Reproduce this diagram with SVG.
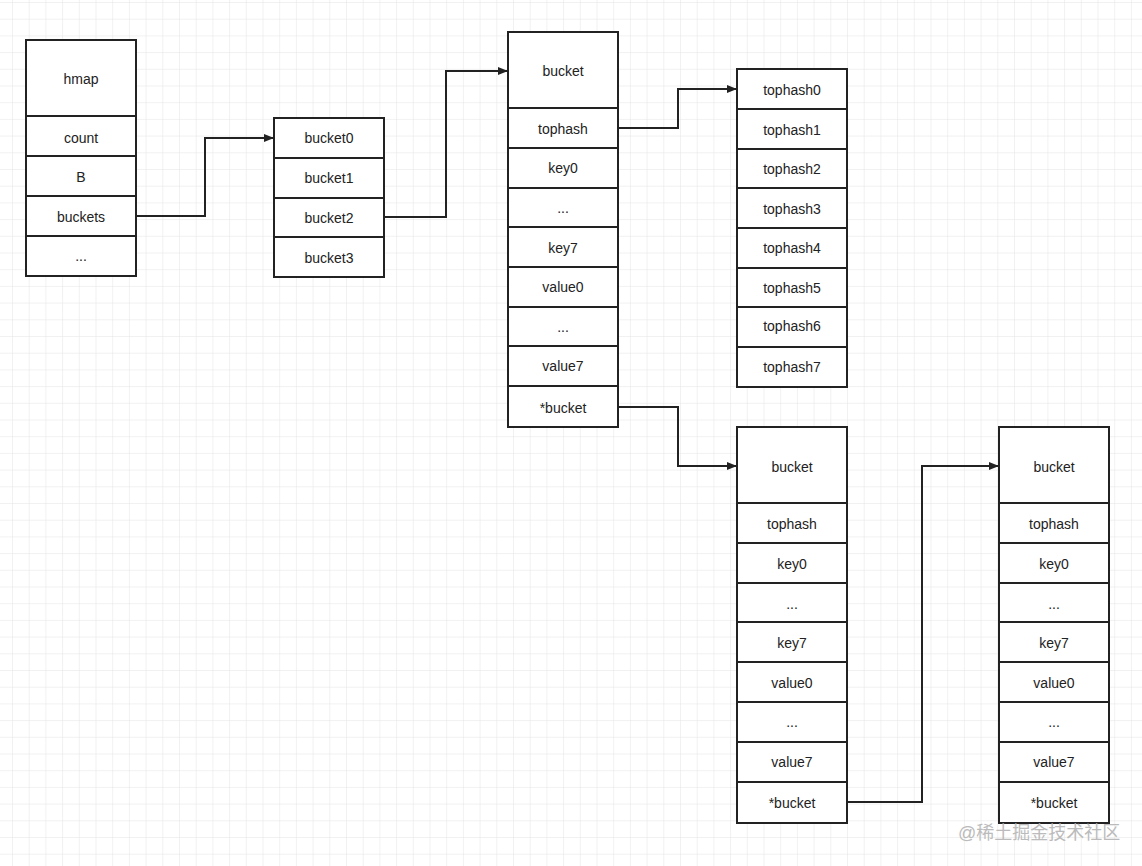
<svg xmlns="http://www.w3.org/2000/svg" width="1142" height="866" viewBox="0 0 1142 866">
<style>
.c{fill:#fff;stroke:#222;stroke-width:2}
text{font-family:"Liberation Sans",Arial,sans-serif;font-size:14px;fill:#222;text-anchor:middle;dominant-baseline:central}
.w{font-family:"Liberation Sans","Noto Sans CJK SC",sans-serif;font-size:18px;fill:#bbb;text-anchor:start}
#conn path{fill:none;stroke:#222;stroke-width:2}
</style>
<defs>
<pattern id="g" width="16.7" height="16.7" patternUnits="userSpaceOnUse" x="12" y="2"><path d="M0 0H16.7M0 0V16.7" stroke="#e4e4e4" stroke-width="1" fill="none"/></pattern>
<marker id="a" markerWidth="10" markerHeight="8" refX="9" refY="4" orient="auto" markerUnits="userSpaceOnUse"><path d="M0 0L10 4L0 8z" fill="#222"/></marker>
</defs>
<rect width="1142" height="866" fill="#fff"/>
<rect width="1142" height="866" fill="url(#g)"/>
<g id="hmap">
<rect class="c" x="26" y="40" width="110" height="76"/><text x="81" y="79">hmap</text>
<rect class="c" x="26" y="116" width="110" height="40"/><text x="81" y="138">count</text>
<rect class="c" x="26" y="156" width="110" height="40"/><text x="81" y="177">B</text>
<rect class="c" x="26" y="196" width="110" height="40"/><text x="81" y="217">buckets</text>
<rect class="c" x="26" y="236" width="110" height="40"/><text x="81" y="256">...</text>
</g>
<g id="buckets">
<rect class="c" x="274" y="118" width="110" height="40"/><text x="329" y="138">bucket0</text>
<rect class="c" x="274" y="158" width="110" height="40"/><text x="329" y="178">bucket1</text>
<rect class="c" x="274" y="198" width="110" height="39"/><text x="329" y="218">bucket2</text>
<rect class="c" x="274" y="237" width="110" height="40"/><text x="329" y="258">bucket3</text>
</g>
<g id="bucketA">
<rect class="c" x="508" y="32" width="110" height="76"/><text x="563" y="71">bucket</text>
<rect class="c" x="508" y="108" width="110" height="40"/><text x="563" y="129">tophash</text>
<rect class="c" x="508" y="148" width="110" height="40"/><text x="563" y="168">key0</text>
<rect class="c" x="508" y="188" width="110" height="39"/><text x="563" y="208">...</text>
<rect class="c" x="508" y="227" width="110" height="40"/><text x="563" y="248">key7</text>
<rect class="c" x="508" y="267" width="110" height="40"/><text x="563" y="287">value0</text>
<rect class="c" x="508" y="307" width="110" height="39"/><text x="563" y="327">...</text>
<rect class="c" x="508" y="346" width="110" height="40"/><text x="563" y="366">value7</text>
<rect class="c" x="508" y="386" width="110" height="41"/><text x="563" y="408">*bucket</text>
</g>
<g id="tophash">
<rect class="c" x="737" y="69" width="110" height="40"/><text x="792" y="90">tophash0</text>
<rect class="c" x="737" y="109" width="110" height="40"/><text x="792" y="130">tophash1</text>
<rect class="c" x="737" y="149" width="110" height="39"/><text x="792" y="169">tophash2</text>
<rect class="c" x="737" y="188" width="110" height="40"/><text x="792" y="209">tophash3</text>
<rect class="c" x="737" y="228" width="110" height="40"/><text x="792" y="248">tophash4</text>
<rect class="c" x="737" y="268" width="110" height="39"/><text x="792" y="288">tophash5</text>
<rect class="c" x="737" y="307" width="110" height="40"/><text x="792" y="326">tophash6</text>
<rect class="c" x="737" y="347" width="110" height="40"/><text x="792" y="367">tophash7</text>
</g>
<g id="bucketB">
<rect class="c" x="737" y="427" width="110" height="76"/><text x="792" y="467">bucket</text>
<rect class="c" x="737" y="503" width="110" height="40"/><text x="792" y="524">tophash</text>
<rect class="c" x="737" y="543" width="110" height="40"/><text x="792" y="564">key0</text>
<rect class="c" x="737" y="583" width="110" height="39"/><text x="792" y="604">...</text>
<rect class="c" x="737" y="622" width="110" height="40"/><text x="792" y="643">key7</text>
<rect class="c" x="737" y="662" width="110" height="40"/><text x="792" y="683">value0</text>
<rect class="c" x="737" y="702" width="110" height="40"/><text x="792" y="722">...</text>
<rect class="c" x="737" y="742" width="110" height="40"/><text x="792" y="762">value7</text>
<rect class="c" x="737" y="782" width="110" height="41"/><text x="792" y="803">*bucket</text>
</g>
<g id="bucketC">
<rect class="c" x="999" y="427" width="110" height="76"/><text x="1054" y="467">bucket</text>
<rect class="c" x="999" y="503" width="110" height="40"/><text x="1054" y="524">tophash</text>
<rect class="c" x="999" y="543" width="110" height="40"/><text x="1054" y="564">key0</text>
<rect class="c" x="999" y="583" width="110" height="39"/><text x="1054" y="604">...</text>
<rect class="c" x="999" y="622" width="110" height="40"/><text x="1054" y="643">key7</text>
<rect class="c" x="999" y="662" width="110" height="40"/><text x="1054" y="683">value0</text>
<rect class="c" x="999" y="702" width="110" height="40"/><text x="1054" y="722">...</text>
<rect class="c" x="999" y="742" width="110" height="40"/><text x="1054" y="762">value7</text>
<rect class="c" x="999" y="782" width="110" height="41"/><text x="1054" y="803">*bucket</text>
</g>
<g id="conn">
<path d="M136 216H205V138H273" marker-end="url(#a)"/>
<path d="M384 217H446V71H507" marker-end="url(#a)"/>
<path d="M618 128H678V89H736" marker-end="url(#a)"/>
<path d="M618 407H678V466H736" marker-end="url(#a)"/>
<path d="M847 802H922V466H998" marker-end="url(#a)"/>
</g>
<text class="w" x="958" y="833">@稀土掘金技术社区</text>
</svg>
